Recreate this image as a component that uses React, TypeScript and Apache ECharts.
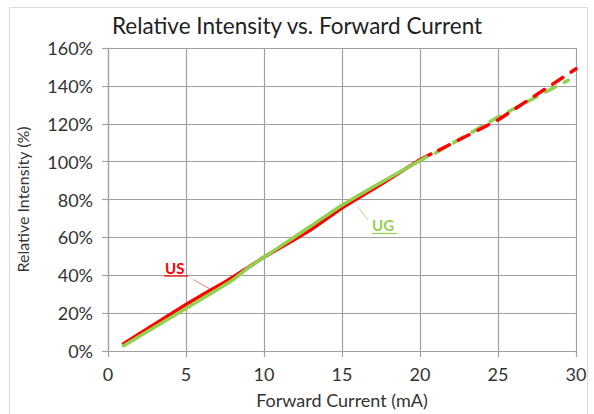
import React, { useEffect, useRef } from "react";
import * as echarts from "echarts";

const chartTitle = "Relative Intensity vs. Forward Current";
const xAxisTitle = "Forward Current (mA)";
const yAxisTitle = "Relative Intensity (%)";

// Measured (solid) portion
const usCurrent = [1, 5, 8, 10, 13, 15, 17.5, 20, 20.7];
const usIntensity = [3.8, 24.5, 39, 49.5, 64, 75.5, 88, 101, 104];
const ugCurrent = [1, 5, 8, 9, 10, 12, 13, 15, 17.5, 20, 20.4];
const ugIntensity = [2.8, 22.5, 37.5, 44, 49.5, 60.5, 66, 77, 89, 100.5, 102.5];

// Extrapolated (dashed) portion
const usExtCurrent = [21.2, 25, 30];
const usExtIntensity = [106, 122, 149];
const ugExtCurrent = [21, 25, 29.5];
const ugExtIntensity = [104.5, 123.5, 143];

const pair = (xs: number[], ys: number[]) => xs.map((x, i) => [x, ys[i]]);

const RED = "#FF0000";
const GREEN = "#92D050";
const FONT = "Lato";

export default function App() {
  const ref = useRef<HTMLDivElement>(null);
  useEffect(() => {
    if (!ref.current) return;
    const chart = echarts.init(ref.current, null, { renderer: "svg" });
    chart.setOption({
      animation: false,
      backgroundColor: "#ffffff",
      title: {
        text: chartTitle,
        left: "center",
        top: 9,
        textStyle: { fontFamily: FONT, fontSize: 22.5, fontWeight: "normal", color: "#222" },
      },
      grid: { left: 108, right: 18, top: 48, bottom: 57 },
      xAxis: {
        type: "value",
        min: 0,
        max: 30,
        interval: 5,
        name: xAxisTitle,
        nameLocation: "middle",
        nameGap: 40,
        nameTextStyle: { fontFamily: FONT, fontSize: 18, color: "#333" },
        axisLine: { show: true, lineStyle: { color: "#A0A0A0", width: 1.2 } },
        axisTick: { show: true, length: 6, lineStyle: { color: "#A0A0A0", width: 1.2 } },
        axisLabel: { fontFamily: FONT, fontSize: 18, color: "#333", margin: 14 },
        splitLine: { show: true, lineStyle: { color: "#A0A0A0", width: 1.2 } },
      },
      yAxis: {
        type: "value",
        min: 0,
        max: 160,
        interval: 20,
        name: yAxisTitle,
        nameLocation: "middle",
        nameGap: 78,
        nameTextStyle: { fontFamily: FONT, fontSize: 16, color: "#333" },
        axisLine: { show: true, lineStyle: { color: "#A0A0A0", width: 1.2 } },
        axisTick: { show: true, length: 6, lineStyle: { color: "#A0A0A0", width: 1.2 } },
        axisLabel: { fontFamily: FONT, fontSize: 18, color: "#333", margin: 15, formatter: "{value}%" },
        splitLine: { show: true, lineStyle: { color: "#A0A0A0", width: 1.2 } },
      },
      series: [
        {
          name: "US",
          type: "line",
          data: pair(usCurrent, usIntensity),
          showSymbol: false,
          smooth: 0.2,
          lineStyle: { color: RED, width: 3.5, cap: "round" },
          z: 3,
        },
        {
          name: "UG",
          type: "line",
          data: pair(ugCurrent, ugIntensity),
          showSymbol: false,
          smooth: 0.2,
          lineStyle: { color: GREEN, width: 3.5, cap: "round" },
          z: 4,
        },
        {
          name: "UG ext",
          type: "line",
          data: pair(ugExtCurrent, ugExtIntensity),
          showSymbol: false,
          lineStyle: { color: GREEN, width: 3.5, type: [11, 10], cap: "round" },
          z: 3,
        },
        {
          name: "US ext",
          type: "line",
          data: pair(usExtCurrent, usExtIntensity),
          showSymbol: false,
          lineStyle: { color: RED, width: 3.5, type: [12, 10], cap: "round" },
          z: 4,
        },
      ],
      graphic: [
        {
          type: "rect",
          shape: { x: 9.5, y: 7.5, width: 578, height: 420 },
          style: { fill: "none", stroke: "#D9D9D9", lineWidth: 1 },
          silent: true,
          z: -10,
        },
        {
          type: "text",
          x: 165,
          y: 260,
          style: { text: "US", fill: RED, font: `bold 15px ${FONT}` },
          z: 10,
        },
        {
          type: "line",
          shape: { x1: 164, y1: 276, x2: 188, y2: 276 },
          style: { stroke: RED, lineWidth: 1.2 },
          z: 10,
        },
        {
          type: "line",
          shape: { x1: 193, y1: 279.5, x2: 209, y2: 288.5 },
          style: { stroke: "#FF8080", lineWidth: 1 },
          z: 10,
        },
        {
          type: "text",
          x: 372,
          y: 217,
          style: { text: "UG", fill: GREEN, font: `bold 15px ${FONT}` },
          z: 10,
        },
        {
          type: "line",
          shape: { x1: 372, y1: 233.5, x2: 397, y2: 233.5 },
          style: { stroke: GREEN, lineWidth: 1.2 },
          z: 10,
        },
        {
          type: "line",
          shape: { x1: 358, y1: 207, x2: 368, y2: 220 },
          style: { stroke: "#B5DE8A", lineWidth: 1 },
          z: 10,
        },
      ],
    });
    return () => chart.dispose();
  }, []);
  return (
    <div
      ref={ref}
      style={{ position: "absolute", left: 0, top: 0, width: 594, height: 414, background: "#fff" }}
    />
  );
}
